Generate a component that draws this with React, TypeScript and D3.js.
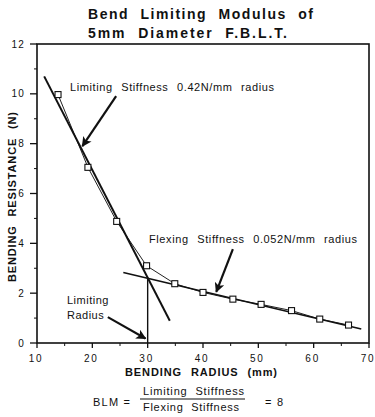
import React from "react";
import * as d3 from "d3";

const radius = [13.8, 19.2, 24.4, 29.8, 34.9, 40.0, 45.4, 50.5, 56.0, 61.1, 66.3];
const resistance = [9.97, 7.05, 4.88, 3.1, 2.38, 2.03, 1.76, 1.55, 1.3, 0.96, 0.72];
const xTicks = [10, 20, 30, 40, 50, 60, 70];
const yTicks = [0, 2, 4, 6, 8, 10, 12];
// fitted lines: [x, y] endpoints
const limitingLine = [[11.3, 10.7], [34.0, 0.89]];
const flexingLine = [[25.6, 2.83], [68.6, 0.56]];
const limitingRadius = 30;
const limitingRadiusTop = 2.61;

const W = 375, H = 417;
const FONT = "'Liberation Sans', Arial, Helvetica, sans-serif";

export default function App() {
  const x = d3.scaleLinear().domain([10, 70]).range([37, 369]);
  const y = d3.scaleLinear().domain([0, 12]).range([343, 44]);
  const line = d3.line<number[]>().x((d) => x(d[0])).y((d) => y(d[1]));
  const pts = radius.map((r, i) => [r, resistance[i]]);
  const xMinor = d3.range(15, 70, 10);
  const yMinor = d3.range(1, 12, 2);

  const arrow = (x1: number, y1: number, x2: number, y2: number) => (
    <line x1={x(x1)} y1={y(y1)} x2={x(x2)} y2={y(y2)} stroke="#111" strokeWidth={2.2} markerEnd="url(#ah)" />
  );

  return (
    <svg width={W} height={H} style={{ position: "absolute", left: 0, top: 0, background: "#fff" }} fontFamily={FONT}>
      <defs>
        <marker id="ah" viewBox="0 0 10 10" refX="9" refY="5" markerUnits="userSpaceOnUse" markerWidth="13" markerHeight="10" orient="auto">
          <path d="M0,0 L10,5 L0,10 L2.5,5 Z" fill="#111" />
        </marker>
      </defs>
      {/* Title */}
      <text x={88} y={19} fontSize={14} fontWeight="bold" fill="#111" wordSpacing={6} textLength={225} lengthAdjust="spacing">Bend Limiting Modulus of</text>
      <text x={88} y={38} fontSize={14} fontWeight="bold" fill="#111" wordSpacing={6} textLength={199} lengthAdjust="spacing">5mm Diameter F.B.L.T.</text>

      {/* Frame */}
      <rect x={x(10)} y={y(12)} width={x(70) - x(10)} height={y(0) - y(12)} fill="none" stroke="#111" strokeWidth={1.6} />

      {/* Y axis ticks */}
      {yTicks.map((t) => (
        <g key={"y" + t}>
          <line x1={x(10) - 7} x2={x(10)} y1={y(t)} y2={y(t)} stroke="#111" strokeWidth={1.3} />
          <text x={x(10) - 12} y={y(t) + 3.5} fontSize={10} letterSpacing={1.2} textAnchor="end" fill="#111">{t}</text>
        </g>
      ))}
      {yMinor.map((t) => (
        <line key={"ym" + t} x1={x(10) - 3} x2={x(10)} y1={y(t)} y2={y(t)} stroke="#111" strokeWidth={1} />
      ))}
      {/* X axis ticks */}
      {xTicks.map((t) => (
        <g key={"x" + t}>
          <line x1={x(t)} x2={x(t)} y1={y(0)} y2={y(0) + 5} stroke="#111" strokeWidth={1.3} />
          <text x={x(t) - 1} y={y(0) + 19} fontSize={10} letterSpacing={1.8} textAnchor="middle" fill="#111">{t}</text>
        </g>
      ))}
      {xMinor.map((t) => (
        <line key={"xm" + t} x1={x(t)} x2={x(t)} y1={y(0)} y2={y(0) + 3} stroke="#111" strokeWidth={1} />
      ))}

      {/* Axis titles */}
      <text x={201} y={376} fontSize={11} fontWeight="bold" textAnchor="middle" fill="#111" wordSpacing={5} textLength={152} lengthAdjust="spacing">BENDING RADIUS (mm)</text>
      <text transform={`translate(16,197) rotate(-90)`} fontSize={11} fontWeight="bold" textAnchor="middle" fill="#111" wordSpacing={5} textLength={170} lengthAdjust="spacing">BENDING RESISTANCE (N)</text>

      {/* Data line */}
      <path d={line(pts) || ""} fill="none" stroke="#222" strokeWidth={1} />
      {/* Fitted lines */}
      <path d={line(limitingLine) || ""} fill="none" stroke="#111" strokeWidth={2} />
      <path d={line(flexingLine) || ""} fill="none" stroke="#111" strokeWidth={1.6} />
      <line x1={x(limitingRadius)} x2={x(limitingRadius)} y1={y(0)} y2={y(limitingRadiusTop)} stroke="#111" strokeWidth={1.4} />

      {/* Squares */}
      {pts.map((p, i) => (
        <rect key={i} x={x(p[0]) - 3} y={y(p[1]) - 3} width={6} height={6} fill="#fff" stroke="#111" strokeWidth={1.1} />
      ))}

      {/* Annotations */}
      <text x={70} y={91} fontSize={11} fill="#111" wordSpacing={5} textLength={204} lengthAdjust="spacing">Limiting Stiffness 0.42N/mm radius</text>
      {arrow(24.3, 9.91, 18.2, 7.9)}
      <text x={149} y={243} fontSize={11} fill="#111" wordSpacing={5} textLength={208} lengthAdjust="spacing">Flexing Stiffness 0.052N/mm radius</text>
      {arrow(45.4, 3.77, 42.4, 2.05)}
      <text x={67} y={304} fontSize={11} fill="#111" letterSpacing={0.5}>Limiting</text>
      <text x={67} y={318.5} fontSize={11} fill="#111" letterSpacing={0.5}>Radius</text>
      {arrow(22.8, 1.04, 29.6, 0.18)}

      {/* Formula */}
      <text x={93} y={406} fontSize={11} fill="#111" textLength={37} lengthAdjust="spacing">BLM =</text>
      <text x={143} y={395} fontSize={11} fill="#111" wordSpacing={4} textLength={101} lengthAdjust="spacing">Limiting Stiffness</text>
      <line x1={140} x2={245} y1={399} y2={399} stroke="#111" strokeWidth={1.2} />
      <text x={143} y={410.5} fontSize={11} fill="#111" wordSpacing={4} textLength={96} lengthAdjust="spacing">Flexing Stiffness</text>
      <text x={265} y={405.5} fontSize={11} fill="#111" textLength={18} lengthAdjust="spacing">= 8</text>
    </svg>
  );
}
